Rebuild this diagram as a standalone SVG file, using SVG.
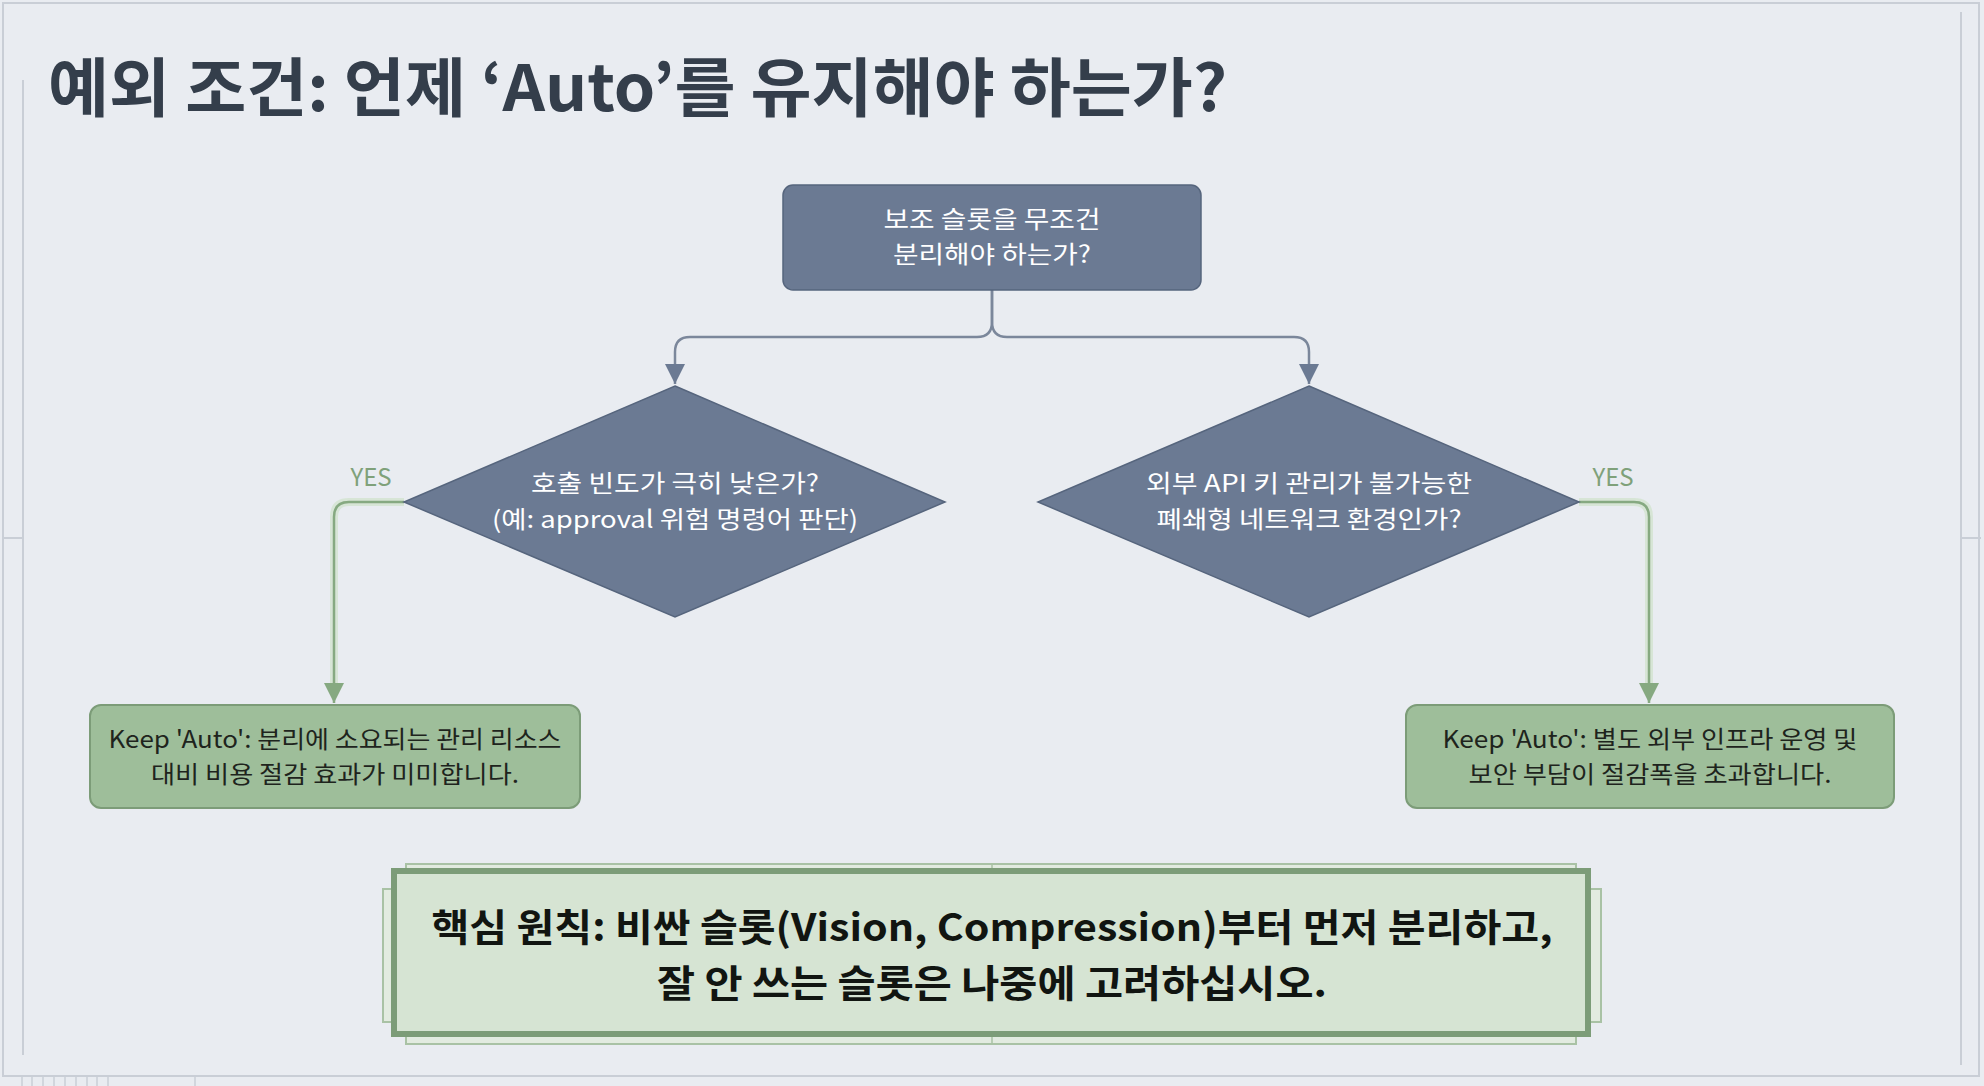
<svg xmlns="http://www.w3.org/2000/svg" width="1984" height="1086" viewBox="0 0 1984 1086">
<defs>
<style>
.t{font-family:"Noto Sans CJK KR","Noto Sans",sans-serif;}
.title{font-size:64px;font-weight:700;fill:#343e4b;}
.wt{font-size:24px;fill:#ffffff;text-anchor:middle;}
.dk{font-size:24px;fill:#1e241d;text-anchor:middle;}
.big{font-size:38px;font-weight:700;fill:#111511;text-anchor:middle;}
.yes{font-size:24px;fill:#7fa17a;text-anchor:middle;}
.q{fill:#6b7a93;stroke:#56657d;stroke-width:1.5;}
.g{fill:#9ebe9a;stroke:#7c9c78;stroke-width:2;}
.cg{fill:none;stroke:#7b879b;stroke-width:2.5;}
.cgr{fill:none;stroke:#86a981;stroke-width:2.5;}
.glow{fill:none;stroke:#cfe3cb;stroke-width:8;opacity:0.7;}
.frame{fill:none;stroke:#c9ced6;stroke-width:2;}
</style>
<marker id="ab" viewBox="0 0 20 20" refX="20" refY="10" markerWidth="20" markerHeight="20" markerUnits="userSpaceOnUse" orient="auto">
<path d="M0,0 L20,10 L0,20 Z" fill="#6b7a93"/>
</marker>
<marker id="ag" viewBox="0 0 20 20" refX="20" refY="10" markerWidth="20" markerHeight="20" markerUnits="userSpaceOnUse" orient="auto">
<path d="M0,0 L20,10 L0,20 Z" fill="#86a981"/>
</marker>
</defs>
<rect x="0" y="0" width="1984" height="1086" fill="#e9ecf1"/>
<g id="frame">
<rect x="3" y="3" width="1976" height="1073" class="frame"/>
<line x1="23" y1="80" x2="23" y2="1055" class="frame"/>
<line x1="3" y1="538" x2="23" y2="538" class="frame"/>
<line x1="1961" y1="12" x2="1961" y2="1065" class="frame"/>
<line x1="1961" y1="538" x2="1981" y2="538" class="frame"/>
<path d="M22,1077V1086M32,1077V1086M43,1077V1086M54,1077V1086M65,1077V1086M76,1077V1086M87,1077V1086M97,1077V1086M108,1077V1086M195,1077V1086" stroke="#c9ced6" stroke-width="1.5"/>
</g>
<text x="48" y="111" class="t title" textLength="1179" lengthAdjust="spacingAndGlyphs">예외 조건: 언제 ‘Auto’를 유지해야 하는가?</text>
<g id="connectors">
<path d="M992,290 V322 Q992,337 977,337 H690 Q675,337 675,352 V384" class="cg" marker-end="url(#ab)"/>
<path d="M992,290 V322 Q992,337 1007,337 H1294 Q1309,337 1309,352 V384" class="cg" marker-end="url(#ab)"/>
<path d="M404,502 H349 Q334,502 334,517 V690" class="glow"/>
<path d="M1579,502 H1634 Q1649,502 1649,517 V690" class="glow"/>
<path d="M404,502 H349 Q334,502 334,517 V703" class="cgr" marker-end="url(#ag)"/>
<path d="M1579,502 H1634 Q1649,502 1649,517 V703" class="cgr" marker-end="url(#ag)"/>
<text x="371" y="486" class="t yes">YES</text>
<text x="1613" y="486" class="t yes">YES</text>
</g>
<g id="start">
<rect x="783" y="185" width="418" height="105" rx="10" class="q"/>
<text x="992" y="228" class="t wt" textLength="217" lengthAdjust="spacingAndGlyphs">보조 슬롯을 무조건</text>
<text x="992" y="263" class="t wt" textLength="198" lengthAdjust="spacingAndGlyphs">분리해야 하는가?</text>
</g>
<g id="q1">
<polygon points="675,386 945,502 675,617 404,502" class="q"/>
<text x="675" y="492" class="t wt" textLength="288" lengthAdjust="spacingAndGlyphs">호출 빈도가 극히 낮은가?</text>
<text x="675" y="528" class="t wt" textLength="366" lengthAdjust="spacingAndGlyphs">(예: approval 위험 명령어 판단)</text>
</g>
<g id="q2">
<polygon points="1309,386 1579,502 1309,617 1038,502" class="q"/>
<text x="1309" y="492" class="t wt" textLength="326" lengthAdjust="spacingAndGlyphs">외부 API 키 관리가 불가능한</text>
<text x="1309" y="528" class="t wt" textLength="305" lengthAdjust="spacingAndGlyphs">폐쇄형 네트워크 환경인가?</text>
</g>
<g id="keep1">
<rect x="90" y="705" width="490" height="103" rx="11" class="g"/>
<text x="335" y="748" class="t dk" textLength="453" lengthAdjust="spacingAndGlyphs">Keep 'Auto': 분리에 소요되는 관리 리소스</text>
<text x="335" y="783" class="t dk" textLength="368" lengthAdjust="spacingAndGlyphs">대비 비용 절감 효과가 미미합니다.</text>
</g>
<g id="keep2">
<rect x="1406" y="705" width="488" height="103" rx="11" class="g"/>
<text x="1650" y="748" class="t dk" textLength="415" lengthAdjust="spacingAndGlyphs">Keep 'Auto': 별도 외부 인프라 운영 및</text>
<text x="1650" y="783" class="t dk" textLength="363" lengthAdjust="spacingAndGlyphs">보안 부담이 절감폭을 초과합니다.</text>
</g>
<g id="principle">
<rect x="406" y="864" width="1170" height="180" fill="#e2ebe0" stroke="#a9c2a5" stroke-width="2"/>
<rect x="383" y="889" width="1218" height="133" fill="#e2ebe0" stroke="#a9c2a5" stroke-width="2"/>
<line x1="992" y1="864" x2="992" y2="1044" stroke="#a9c2a5" stroke-width="1.5"/>
<rect x="394" y="871" width="1194" height="163" fill="#d6e4d3" stroke="#7c9c78" stroke-width="6"/>
<text x="992" y="941" class="t big" textLength="1121" lengthAdjust="spacingAndGlyphs">핵심 원칙: 비싼 슬롯(Vision, Compression)부터 먼저 분리하고,</text>
<text x="992" y="997" class="t big" textLength="670" lengthAdjust="spacingAndGlyphs">잘 안 쓰는 슬롯은 나중에 고려하십시오.</text>
</g>
</svg>
